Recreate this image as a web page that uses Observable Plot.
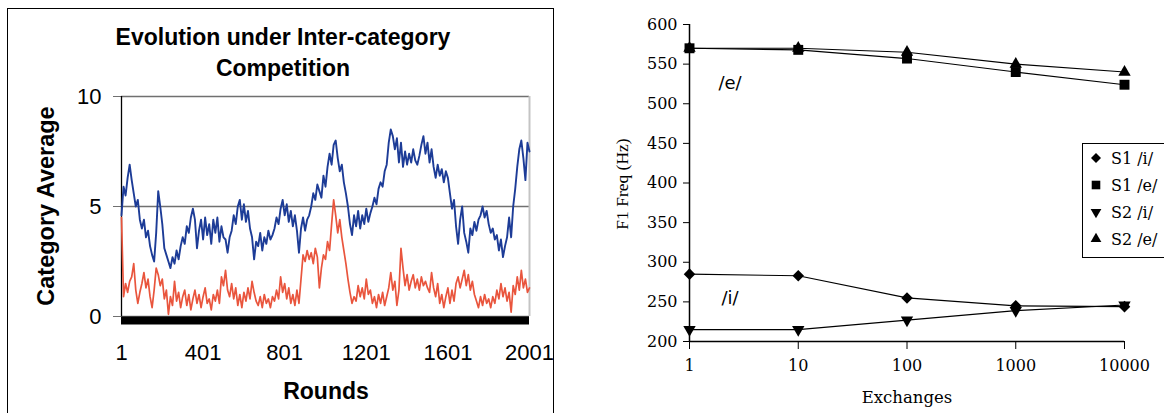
<!DOCTYPE html>
<html><head><meta charset="utf-8">
<script src="https://cdn.jsdelivr.net/npm/d3@7"></script>
<script src="https://cdn.jsdelivr.net/npm/@observablehq/plot@0.6"></script>
<style>
body{margin:0;background:#fff;}
#root{position:relative;width:1164px;height:413px;overflow:hidden;background:#fff;}
.abs{position:absolute;white-space:nowrap;line-height:1;}
.c{transform:translate(-50%,-50%);}
.lt{font-family:'Liberation Sans',Arial,sans-serif;font-weight:bold;font-size:23px;color:#000;}
#leftbox{position:absolute;left:7px;top:8px;width:547px;height:500px;border:1px solid #000;box-sizing:border-box;pointer-events:none;}
#lplot{position:absolute;left:0;top:0;}
#rplot{position:absolute;left:560px;top:0;}
.ann{font-family:'DejaVu Sans',sans-serif;font-size:18px;color:#000;}
#legend{position:absolute;left:1082px;top:143px;width:110px;height:115px;border:1px solid #000;background:#fff;box-sizing:border-box;}
.lrow{position:absolute;left:0;font-family:'DejaVu Serif',serif;font-size:16px;color:#000;white-space:nowrap;}
</style></head><body>
<div id="root">
  <div id="lplot"></div>
  <div id="leftbox"></div>
  <div class="abs c lt" style="left:283px;top:37px;">Evolution under Inter-category</div>
  <div class="abs c lt" style="left:283px;top:68px;">Competition</div>
  <div class="abs lt" style="left:47px;top:206px;transform:translate(-50%,-50%) rotate(-90deg);font-size:23.5px;">Category Average</div>
  <div class="abs c lt" style="left:326px;top:391px;">Rounds</div>
  <div id="rplot"></div>
  <div class="abs c" style="left:623px;top:184px;transform:translate(-50%,-50%) rotate(-90deg);font-family:'Liberation Serif',serif;font-size:17.5px;">F1 Freq (Hz)</div>
  <div class="abs c" style="left:907px;top:398px;font-family:'DejaVu Serif',serif;font-size:16.5px;">Exchanges</div>
  <div class="abs c ann" style="left:730px;top:83px;">/e/</div>
  <div class="abs c ann" style="left:730px;top:298px;">/i/</div>
  <div id="legend"></div>
</div>
<script>
// ---------- Left chart data (values read every 10 rounds) ----------
const roundStep = 10;
const xTicksLeft = [1, 401, 801, 1201, 1601, 2001];
const yTicksLeft = [0, 5, 10];
const blueSeries = [
4.6,5.9,5.5,6.3,6.9,6.2,5.6,5.0,5.3,4.4,
4.0,4.4,3.6,3.9,3.2,2.8,2.5,3.8,5.7,5.0,
4.2,3.1,2.8,2.5,2.2,2.7,2.4,3.0,2.6,3.2,
3.6,3.3,4.1,3.8,4.5,4.9,4.4,3.1,3.9,4.4,
3.5,4.5,3.7,4.2,3.3,4.4,3.8,4.5,3.4,4.1,
3.6,3.5,2.9,3.6,3.9,4.6,4.2,5.0,5.3,4.4,
5.1,4.3,4.8,4.0,3.6,2.6,3.4,3.2,3.8,3.0,
3.6,3.3,3.9,3.5,3.7,4.0,4.5,4.2,4.9,5.3,
4.6,5.1,4.3,4.8,4.1,4.6,3.9,2.9,4.0,4.5,
3.9,4.4,4.6,5.0,5.6,5.3,6.0,5.7,5.4,6.4,
5.9,6.8,7.4,6.9,7.8,8.0,7.2,6.6,6.9,6.1,
5.6,5.0,4.2,3.7,4.6,4.1,4.8,4.0,4.6,4.2,
4.9,4.3,4.7,5.0,5.4,5.1,5.8,6.1,5.9,6.6,
6.9,7.9,8.5,8.2,7.6,8.1,7.0,7.9,6.8,7.5,
6.9,7.4,7.0,7.6,7.1,6.9,7.3,7.8,8.2,7.4,
7.9,7.0,7.6,6.8,6.3,6.9,6.4,6.7,6.1,6.6,
6.3,5.6,4.9,5.3,4.1,3.3,4.4,5.0,3.8,3.4,
2.9,4.0,3.7,4.3,3.9,4.4,4.6,5.0,4.5,4.8,
4.2,3.8,4.0,3.5,3.7,3.0,3.5,2.7,3.2,3.6,
4.5,3.6,5.0,5.8,6.8,7.6,8.0,7.2,6.2,7.9,
7.5];
const redSeries = [
4.5,0.9,1.5,1.1,1.6,1.8,2.4,1.2,0.6,1.1,
1.5,2.0,1.3,1.7,0.9,0.4,1.2,2.2,1.9,1.4,
1.7,0.8,1.2,0.1,0.9,0.5,1.6,0.7,1.1,0.4,
0.9,1.2,0.5,1.0,0.3,0.8,1.2,0.6,1.0,0.4,
0.9,1.3,0.6,0.8,0.3,1.0,0.7,1.2,0.6,1.8,
1.4,2.1,1.2,0.9,1.5,0.8,1.3,0.5,1.0,0.4,
1.1,0.7,1.3,0.8,1.6,1.1,0.7,0.5,0.9,0.4,
1.0,0.6,0.8,0.4,0.9,0.7,1.2,0.8,1.8,1.1,
1.5,0.8,1.3,0.6,1.0,0.5,1.2,0.6,1.7,2.8,
2.5,3.0,2.6,2.9,2.4,3.1,2.7,1.3,2.2,2.8,
2.6,3.4,3.0,4.2,5.3,4.6,3.8,4.4,3.6,3.0,
2.4,1.7,1.1,0.6,0.9,0.7,1.4,0.9,1.3,0.8,
1.7,1.0,1.2,0.6,0.9,0.4,1.0,0.6,1.1,0.5,
0.9,1.3,2.0,1.2,1.6,0.5,1.2,3.1,2.2,1.4,
1.9,1.2,1.6,1.9,1.3,1.7,1.2,1.8,1.4,1.6,
1.3,1.1,2.0,1.3,0.9,1.5,0.6,1.0,0.4,0.9,
1.3,0.6,1.2,0.7,1.5,1.8,1.3,1.7,2.1,1.4,
1.9,1.2,1.6,1.0,0.7,0.4,0.9,0.5,1.0,0.6,
0.8,0.4,0.9,0.6,1.2,0.8,1.5,0.9,1.3,0.7,
1.1,0.2,1.4,1.0,1.8,1.2,2.1,1.3,1.7,1.1,
1.3];

// ---------- Right chart data ----------
const exchanges = [1, 10, 100, 1000, 10000];
const yTicksRight = [200, 250, 300, 350, 400, 450, 500, 550, 600];
const s1i = [285, 283, 255, 245, 244];
const s1e = [570, 568, 557, 540, 524];
const s2i = [215, 215, 227, 239, 246];
const s2e = [570, 570, 565, 550, 540];
const legendLabels = ["S1 /i/", "S1 /e/", "S2 /i/", "S2 /e/"];

// ---------- Left chart ----------
const toRows = (arr) => arr.map((v, i) => ({round: 1 + i * roundStep, v}));
const blueRows = toRows(blueSeries);
const redRows = toRows(redSeries);

const leftPlot = Plot.plot({
  width: 553, height: 413,
  marginLeft: 121, marginRight: 24, marginTop: 96, marginBottom: 97,
  style: {fontFamily: "'Liberation Sans', Arial, sans-serif", fontSize: "22px", color: "#000", background: "transparent", overflow: "hidden"},
  x: {domain: [1, 2001]},
  y: {domain: [0, 10]},
  marks: [
    Plot.gridY(yTicksLeft, {stroke: "#707070", strokeOpacity: 1, strokeWidth: 1.7}),
    Plot.axisY(yTicksLeft, {tickSize: 8, tickPadding: 12, stroke: "#707070", label: null, tickFormat: d => String(d)}),
    Plot.ruleX([2001], {stroke: "#c4c4c4", strokeWidth: 2}),
    Plot.ruleX([1], {stroke: "#000", strokeWidth: 1.3}),
    Plot.line(blueRows, {x: "round", y: "v", stroke: "#1d3c97", strokeWidth: 1.9}),
    Plot.line(redRows, {x: "round", y: "v", stroke: "#e9553d", strokeWidth: 1.7}),
    Plot.ruleY([0], {stroke: "#000", strokeWidth: 8, dy: 4}),
    Plot.axisX(xTicksLeft, {tickSize: 0, tickPadding: 28, label: null, tickFormat: d => String(d)})
  ]
});
document.getElementById("lplot").appendChild(leftPlot);

// ---------- Right chart ----------
const triDown = {
  draw(ctx, size) {
    const y = -Math.sqrt(size / (Math.sqrt(3) * 3));
    ctx.moveTo(0, -y * 2);
    ctx.lineTo(-Math.sqrt(3) * y, y);
    ctx.lineTo(Math.sqrt(3) * y, y);
    ctx.closePath();
  }
};
const seriesDefs = [
  {name: legendLabels[0], values: s1i, symbol: d3.symbolDiamond2, r: 5.2},
  {name: legendLabels[1], values: s1e, symbol: d3.symbolSquare, r: 5.6},
  {name: legendLabels[2], values: s2i, symbol: triDown, r: 4.6},
  {name: legendLabels[3], values: s2e, symbol: d3.symbolTriangle, r: 4.6}
];
const seriesMarks = [];
for (const s of seriesDefs) {
  const rows = exchanges.map((x, i) => ({x, y: s.values[i]}));
  seriesMarks.push(Plot.line(rows, {x: "x", y: "y", stroke: "#000", strokeWidth: 1.1}));
}
for (const s of seriesDefs) {
  const rows = exchanges.map((x, i) => ({x, y: s.values[i]}));
  seriesMarks.push(Plot.dot(rows, {x: "x", y: "y", symbol: s.symbol, r: s.r, fill: "#000", stroke: "none"}));
}

const rightPlot = Plot.plot({
  width: 604, height: 413,
  marginLeft: 129, marginRight: 40, marginTop: 24, marginBottom: 72,
  style: {fontFamily: "'DejaVu Serif', serif", fontSize: "16px", color: "#000", background: "transparent"},
  x: {type: "log", domain: [1, 10000]},
  y: {domain: [200, 600]},
  marks: [
    Plot.axisY(yTicksRight, {tickSize: 6, tickPadding: 6, label: null, tickFormat: d => String(d)}),
    Plot.axisX(exchanges, {tickSize: 8, tickPadding: 10, label: null, tickFormat: d => String(d)}),
    Plot.ruleX([1], {stroke: "#000", strokeWidth: 1.5}),
    Plot.ruleY([200], {stroke: "#000", strokeWidth: 1.5}),
    ...seriesMarks
  ]
});
document.getElementById("rplot").appendChild(rightPlot);

// ---------- Legend ----------
const legend = document.getElementById("legend");
const rowTops = [14, 41, 68, 95];
seriesDefs.forEach((s, i) => {
  const row = document.createElement("div");
  row.className = "lrow";
  row.style.top = (rowTops[i] - 10) + "px";
  const svg = d3.create("svg").attr("width", 24).attr("height", 20)
    .style("position", "absolute").style("left", "1px").style("top", "0px");
  svg.append("path").attr("transform", "translate(12,10)")
    .attr("d", d3.symbol(s.symbol, s.r * s.r * Math.PI * 0.75)()).attr("fill", "#000");
  row.appendChild(svg.node());
  const t = document.createElement("span");
  t.textContent = s.name;
  t.style.position = "absolute"; t.style.left = "28px"; t.style.top = "1px";
  row.appendChild(t);
  legend.appendChild(row);
});
</script>
</body></html>
